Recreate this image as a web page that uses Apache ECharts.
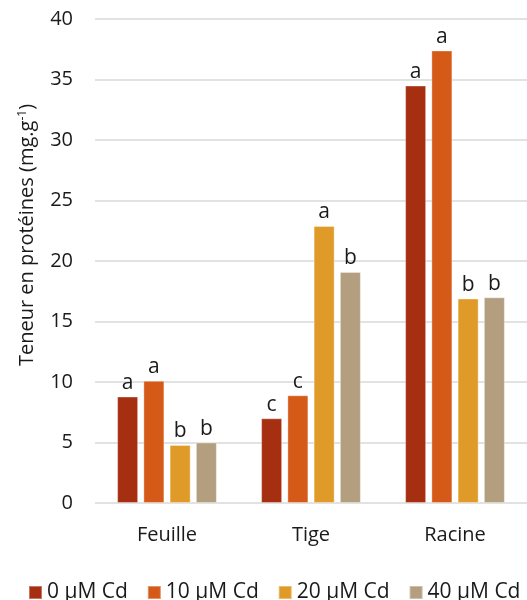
<!DOCTYPE html>
<html><head><meta charset="utf-8">
<script src="https://cdn.jsdelivr.net/npm/echarts@6/dist/echarts.min.js"></script>
<style>html,body{margin:0;padding:0;background:#fff}#c{width:527px;height:600px}</style>
</head><body><div id="c"></div>
<script>
var categories = ['Feuille', 'Tige', 'Racine'];
var seriesNames = ['0 µM Cd', '10 µM Cd', '20 µM Cd', '40 µM Cd'];
var colors = ['#A52F10', '#D55A18', '#E09A28', '#B39E7F'];
var v0 = [8.8, 7.0, 34.5];
var v10 = [10.1, 8.9, 37.4];
var v20 = [4.8, 22.9, 16.9];
var v40 = [5.0, 19.1, 17.0];
var l0 = ['a', 'c', 'a'];
var l10 = ['a', 'c', 'a'];
var l20 = ['b', 'a', 'b'];
var l40 = ['b', 'b', 'b'];
var yTicks = [0, 5, 10, 15, 20, 25, 30, 35, 40];

var values = [v0, v10, v20, v40];
var letters = [l0, l10, l20, l40];
var FONT = 'Open Sans';
var TXT = '#1a1a1a';
var chart = echarts.init(document.getElementById('c'));
chart.setOption({
  animation: false,
  textStyle: {fontFamily: FONT},
  grid: {left: 95, right: -3, top: 19, bottom: 97, containLabel: false},
  xAxis: {
    type: 'category', data: categories,
    axisLine: {show: false}, axisTick: {show: false},
    axisLabel: {fontSize: 20, color: TXT, margin: 22, fontFamily: FONT}
  },
  yAxis: {
    type: 'value', min: yTicks[0], max: yTicks[yTicks.length - 1], interval: 5,
    axisLine: {show: false}, axisTick: {show: false},
    axisLabel: {fontSize: 20, color: TXT, margin: 22, fontFamily: FONT},
    splitLine: {lineStyle: {color: '#D9D9D9', width: 1.5}}
  },
  legend: {
    top: 577, left: 23, icon: 'rect', itemWidth: 13, itemHeight: 13, itemGap: 19,
    textStyle: {fontSize: 21, color: TXT, fontFamily: FONT},
    data: seriesNames
  },
  graphic: [{
    type: 'text', x: 27, y: 235, rotation: Math.PI / 2,
    style: {
      text: 'Teneur en protéines (mg.g{s|-1})',
      fontSize: 20, fontFamily: FONT, fill: TXT,
      align: 'center', verticalAlign: 'middle',
      rich: {s: {fontSize: 12, verticalAlign: 'top', padding: [0, 0, 9, 0], fontFamily: FONT, fill: TXT}}
    }
  }],
  series: values.map(function (vals, i) {
    return {
      name: seriesNames[i], type: 'bar', data: vals,
      barWidth: 21, barGap: '25%',
      itemStyle: {color: colors[i], borderColor: 'rgba(255,255,255,0.35)', borderWidth: 1},
      label: {
        show: true, position: 'top', distance: 3, fontSize: 21, color: TXT, fontFamily: FONT,
        formatter: function (p) { return letters[i][p.dataIndex]; }
      }
    };
  })
});
</script></body></html>
